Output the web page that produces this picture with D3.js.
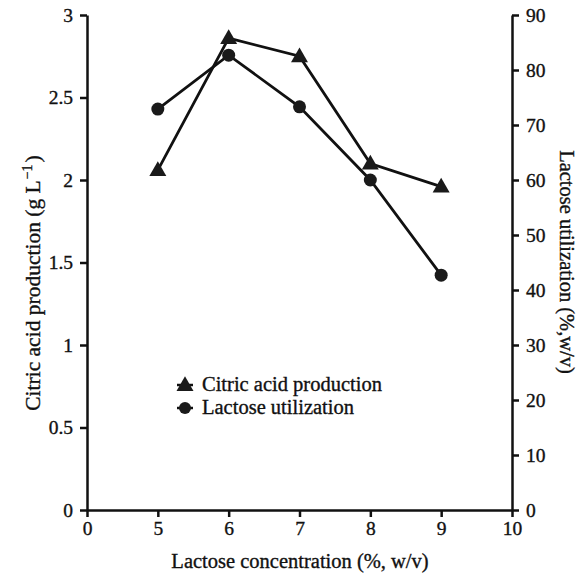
<!DOCTYPE html>
<html>
<head>
<meta charset="utf-8">
<script src="https://cdn.jsdelivr.net/npm/d3@7"></script>
<style>
  body { margin: 0; background: #fff; }
  .axis path, .axis line { stroke: #111; stroke-width: 2.5; }
</style>
</head>
<body>
<svg width="580" height="577"></svg>
<script>
// x axis categories (broken axis: 0, then 5..10 evenly spaced)
const xLabels = ['0', '5', '6', '7', '8', '9', '10'];
const concentration = ['5', '6', '7', '8', '9'];
const citricAcid = [2.06, 2.86, 2.75, 2.10, 1.96];
const lactoseUse = [72.9, 82.7, 73.3, 60.0, 42.7];
const leftTicks = [0, 0.5, 1, 1.5, 2, 2.5, 3];
const rightTicks = [0, 10, 20, 30, 40, 50, 60, 70, 80, 90];

const serif = '"Liberation Serif", "Times New Roman", "DejaVu Serif", serif';

const svg = d3.select('svg');
const mLeft = 87, mRight = 512, mTop = 15, mBottom = 510;

const x = d3.scalePoint().domain(xLabels).range([mLeft, mRight]);
const yL = d3.scaleLinear().domain([0, 3]).range([mBottom, mTop]);
const yR = d3.scaleLinear().domain([0, 90]).range([mBottom, mTop]);

svg.append('g')
  .attr('class', 'axis')
  .attr('transform', `translate(0,${mBottom})`)
  .call(d3.axisBottom(x).tickSize(7).tickSizeOuter(0).tickPadding(4));

svg.append('g')
  .attr('class', 'axis')
  .attr('transform', `translate(${mLeft},0)`)
  .call(d3.axisLeft(yL).tickValues(leftTicks).tickFormat(d => String(d)).tickSize(7).tickSizeOuter(0).tickPadding(7));

svg.append('g')
  .attr('class', 'axis')
  .attr('transform', `translate(${mRight},0)`)
  .call(d3.axisRight(yR).tickValues(rightTicks).tickSize(7).tickSizeOuter(0).tickPadding(7));

svg.selectAll('.axis text').attr('class', 'tick-label');

// axis titles
svg.append('text')
  .attr('class', 'title')
  .attr('x', 300)
  .attr('y', 568)
  .attr('text-anchor', 'middle')
  .text('Lactose concentration (%, w/v)');

const lt = svg.append('text')
  .attr('class', 'title-y')
  .attr('transform', `translate(40,283) rotate(-90)`)
  .attr('text-anchor', 'middle');
lt.append('tspan').text('Citric acid production (g L');
lt.append('tspan').attr('dy', -8).attr('dx', 1).attr('font-size', 14).text('−1');
lt.append('tspan').attr('dy', 8).attr('dx', 2).text(')');

svg.append('text')
  .attr('class', 'title')
  .attr('transform', `translate(560,262) rotate(90)`)
  .attr('text-anchor', 'middle')
  .text('Lactose utilization (%,w/v)');

const line1 = d3.line().x((d, i) => x(concentration[i])).y(d => yL(d));
const line2 = d3.line().x((d, i) => x(concentration[i])).y(d => yR(d));

svg.append('path').datum(lactoseUse)
  .attr('d', line2).attr('fill', 'none').attr('stroke', '#111').attr('stroke-width', 2.8);
svg.append('path').datum(citricAcid)
  .attr('d', line1).attr('fill', 'none').attr('stroke', '#111').attr('stroke-width', 2.8);

const tri = d3.symbol().type(d3.symbolTriangle).size(125);

svg.selectAll('.circ').data(lactoseUse).enter().append('circle')
  .attr('cx', (d, i) => x(concentration[i]))
  .attr('cy', d => yR(d))
  .attr('r', 6.5)
  .attr('fill', '#1a1a1a');

svg.selectAll('.tri').data(citricAcid).enter().append('path')
  .attr('d', tri)
  .attr('transform', (d, i) => `translate(${x(concentration[i])},${yL(d) + 1})`)
  .attr('fill', '#1a1a1a');

// legend
const legend = svg.append('g').attr('transform', 'translate(185,385)');
const items = [
  { label: 'Citric acid production', shape: 'tri' },
  { label: 'Lactose utilization', shape: 'circ' }
];
items.forEach((it, i) => {
  const g = legend.append('g').attr('transform', `translate(0,${i * 23})`);
  g.append('line').attr('x1', -8).attr('x2', 8).attr('stroke', '#111').attr('stroke-width', 2.5);
  if (it.shape === 'tri') {
    g.append('path').attr('d', tri).attr('transform', 'translate(0,1)').attr('fill', '#1a1a1a');
  } else {
    g.append('circle').attr('r', 6).attr('fill', '#1a1a1a');
  }
  g.append('text').attr('class', 'title').attr('x', 17).attr('y', 6).text(it.label);
});

svg.selectAll('text')
  .style('font-family', serif)
  .style('fill', '#111')
  .style('stroke', '#111')
  .style('stroke-width', 0.35);
svg.selectAll('text.tick-label').style('font-size', '19.5px');
svg.selectAll('text.title').style('font-size', '20.5px');
svg.selectAll('text.title-y').style('font-size', '21.5px');
</script>
</body>
</html>
